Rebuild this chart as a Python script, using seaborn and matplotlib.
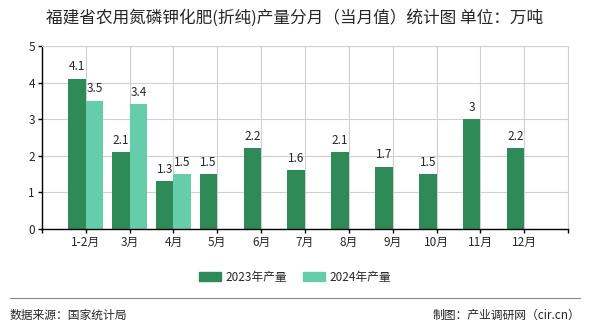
import matplotlib
matplotlib.use("Agg")
import matplotlib.pyplot as plt
import seaborn as sns
import pandas as pd
import numpy as np
from matplotlib.patches import Patch

months = ["1-2月", "3月", "4月", "5月", "6月", "7月", "8月", "9月", "10月", "11月", "12月"]
vals_2023 = [4.1, 2.1, 1.3, 1.5, 2.2, 1.6, 2.1, 1.7, 1.5, 3, 2.2]
vals_2024 = [3.5, 3.4, 1.5, None, None, None, None, None, None, None, None]
series = ["2023年产量", "2024年产量"]
colors = ["#2E8B57", "#66CDAA"]
yticks = [0, 1, 2, 3, 4, 5]

sns.set_theme(style="white")
plt.rcParams['font.family'] = ['Noto Sans CJK SC', 'DejaVu Sans']

rows = []
for m, a, b in zip(months, vals_2023, vals_2024):
    rows.append({"月份": m, "系列": series[0], "值": a})
    rows.append({"月份": m, "系列": series[1], "值": b if b is not None else np.nan})
df = pd.DataFrame(rows)

fig = plt.figure(figsize=(5.9, 3.3), dpi=100)
ax = fig.add_axes([0.071, 0.306, 0.892, 0.555])
sns.barplot(data=df, x="月份", y="值", hue="系列", palette=colors, width=0.8,
            order=months, hue_order=series, ax=ax, saturation=1, legend=False,
            linewidth=0, edgecolor="none")

ax.set_xlim(-1, len(months))
ax.set_ylim(0, 5)
ax.set_yticks(yticks)
ax.set_xticks(list(range(-1, len(months) + 1)))
ax.set_xticklabels([""] + months + [""], fontsize=8.5)
ax.set_yticklabels([str(t) for t in yticks], fontsize=8.5)
ax.set_xlabel("")
ax.set_ylabel("")
ax.grid(True, color="#d0d0d0", linewidth=0.8)
ax.set_axisbelow(True)
for s in ["top", "right"]:
    ax.spines[s].set_color("#d0d0d0")
    ax.spines[s].set_linewidth(0.8)
for s in ["left", "bottom"]:
    ax.spines[s].set_color("black")
    ax.spines[s].set_linewidth(1)
ax.tick_params(axis="both", direction="out", length=3, width=1, color="black", pad=2)
ax.tick_params(axis="x", bottom=True)
ax.tick_params(axis="y", left=True)

for container in ax.containers:
    labels = []
    for bar in container:
        h = bar.get_height()
        labels.append("" if np.isnan(h) else f"{h:g}")
    ax.bar_label(container, labels=labels, padding=4, fontsize=8.5)

fig.text(0.5, 0.945, "福建省农用氮磷钾化肥(折纯)产量分月（当月值）统计图 单位：万吨",
         ha="center", va="center", fontsize=12)

handles = [Patch(color=c, label=l) for c, l in zip(colors, series)]
fig.legend(handles=handles, loc="center", bbox_to_anchor=(0.5, 0.16), ncol=2,
           frameon=False, fontsize=8.5, handlelength=1.85, handleheight=0.75,
           columnspacing=1.4, handletextpad=0.35)

fig.add_artist(plt.Line2D([0.017, 0.983], [0.097, 0.097], color="#888888", linewidth=0.8,
                          transform=fig.transFigure))
fig.text(0.017, 0.045, "数据来源：国家统计局", ha="left", va="center", fontsize=8.5)
fig.text(0.983, 0.045, "制图：产业调研网（cir.cn）", ha="right", va="center", fontsize=8.5)

fig.savefig("out.png", dpi=100)
